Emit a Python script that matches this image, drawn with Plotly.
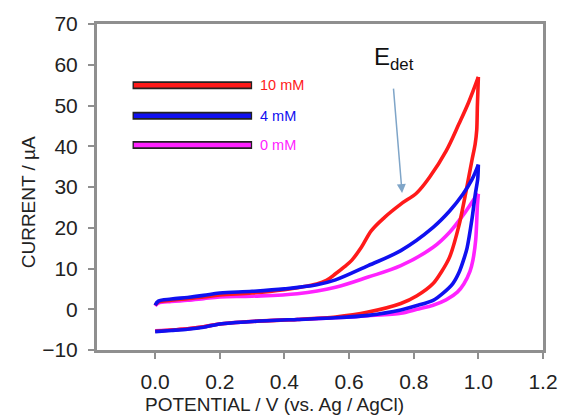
import plotly.graph_objects as go

# Cyclic voltammograms: forward (anodic) and reverse scans per concentration
v_fwd_10 = [0.0, 0.01, 0.05, 0.1, 0.15, 0.2, 0.3, 0.4, 0.45, 0.5, 0.53, 0.558, 0.585, 0.608, 0.638, 0.669, 0.709, 0.76, 0.81, 0.85, 0.9, 0.94, 0.97, 1.0]
i_fwd_10 = [1.0, 1.8, 2.2, 2.6, 3.0, 3.5, 4.0, 4.8, 5.4, 6.2, 7.1, 8.7, 10.4, 12.0, 15.2, 19.3, 22.5, 25.8, 28.6, 32.5, 38.8, 45.5, 50.8, 57.0]
v_rev_10 = [1.0, 0.997, 0.995, 0.99, 0.98, 0.962, 0.941, 0.911, 0.886, 0.86, 0.81, 0.76, 0.659, 0.558, 0.44, 0.3, 0.2, 0.15, 0.1, 0.05, 0.0]
i_rev_10 = [57.0, 50.0, 44.0, 40.5, 36.5, 29.0, 20.9, 12.8, 9.2, 6.3, 3.3, 1.4, -0.7, -1.9, -2.5, -3.0, -3.6, -4.3, -4.8, -5.1, -5.4]

v_fwd_4 = [0.0, 0.01, 0.05, 0.1, 0.15, 0.2, 0.3, 0.4, 0.5, 0.558, 0.659, 0.76, 0.86, 0.911, 0.952, 0.98, 1.0]
i_fwd_4 = [1.0, 2.0, 2.5, 2.9, 3.4, 4.0, 4.4, 5.0, 6.0, 7.2, 10.7, 14.4, 20.1, 24.1, 28.2, 31.8, 35.5]
v_rev_4 = [1.0, 0.998, 0.99, 0.98, 0.965, 0.957, 0.94, 0.921, 0.89, 0.86, 0.81, 0.76, 0.659, 0.558, 0.44, 0.3, 0.2, 0.15, 0.1, 0.05, 0.0]
i_rev_4 = [35.5, 32.0, 28.0, 22.0, 15.0, 12.8, 9.0, 6.3, 3.9, 2.2, 0.9, -0.2, -1.5, -2.1, -2.5, -3.0, -3.6, -4.4, -4.9, -5.2, -5.5]

v_fwd_0 = [0.0, 0.01, 0.05, 0.1, 0.15, 0.2, 0.3, 0.44, 0.558, 0.659, 0.76, 0.86, 0.911, 0.962, 0.99, 1.0]
i_fwd_0 = [0.8, 1.5, 1.9, 2.2, 2.6, 3.0, 3.2, 3.8, 5.4, 7.9, 10.7, 15.2, 18.9, 24.1, 27.4, 28.3]
v_rev_0 = [1.0, 0.997, 0.992, 0.983, 0.974, 0.955, 0.935, 0.9, 0.86, 0.81, 0.76, 0.659, 0.558, 0.44, 0.3, 0.2, 0.15, 0.1, 0.05, 0.0]
i_rev_0 = [28.3, 25.4, 17.2, 12.0, 9.3, 6.2, 4.2, 2.3, 1.0, 0.0, -1.0, -1.6, -2.1, -2.5, -3.0, -3.6, -4.3, -4.8, -5.1, -5.3]

series_labels = ["10 mM", "4 mM", "0 mM"]
series_colors = ["#ff1a1a", "#1010f0", "#ff22ff"]
legend_levels = [55.0, 47.5, 40.3]

x_ticks = [0.0, 0.2, 0.4, 0.6, 0.8, 1.0, 1.2]
y_ticks = [-10, 0, 10, 20, 30, 40, 50, 60, 70]

scans = {
    "10 mM": [(v_fwd_10, i_fwd_10), (v_rev_10, i_rev_10)],
    "4 mM": [(v_fwd_4, i_fwd_4), (v_rev_4, i_rev_4)],
    "0 mM": [(v_fwd_0, i_fwd_0), (v_rev_0, i_rev_0)],
}

FONT = "Liberation Sans, Arial"

fig = go.Figure()
# draw order: 0 mM, 10 mM, then 4 mM on top
for name in ["0 mM", "10 mM", "4 mM"]:
    color = series_colors[series_labels.index(name)]
    for (xs, ys), smooth in zip(scans[name], [1.0, 0.7]):
        fig.add_trace(go.Scatter(
            x=xs, y=ys, mode="lines", name=name,
            line=dict(color=color, width=3.6, shape="spline", smoothing=smooth),
            showlegend=False, hoverinfo="skip",
        ))

# hand-drawn style legend: outlined bars with coloured labels
for label, color, lvl in zip(series_labels, series_colors, legend_levels):
    fig.add_shape(type="line", xref="x", yref="y", x0=-0.07, x1=0.30, y0=lvl, y1=lvl,
                  line=dict(color="#222222", width=8))
    fig.add_shape(type="line", xref="x", yref="y", x0=-0.066, x1=0.296, y0=lvl, y1=lvl,
                  line=dict(color=color, width=4.5))
    fig.add_annotation(x=0.318, y=lvl, xref="x", yref="y", text=label, showarrow=False,
                       xanchor="left", yanchor="middle",
                       font=dict(family=FONT, size=14.5, color=color))

# E_det marker
fig.add_annotation(x=0.764, y=28.5, ax=0.737, ay=54.5, xref="x", yref="y", axref="x", ayref="y",
                   text="", showarrow=True, arrowhead=2, arrowsize=1.2, arrowwidth=1.5,
                   arrowcolor="#7fa5c8")
fig.add_annotation(x=0.74, y=61.5, xref="x", yref="y", text="E<sub>det</sub>", showarrow=False,
                   xanchor="center", yanchor="middle",
                   font=dict(family=FONT, size=24, color="#111111"))

W, H = 570, 416
L, R, T, B = 97, 18, 22, 66


def px_to_paper(px, py):
    return (px - L) / (W - L - R), 1 - (py - T) / (H - T - B)


# axis titles
ax_x, ax_y = px_to_paper(278, 405)
fig.add_annotation(x=ax_x, y=ax_y, xref="paper", yref="paper", text="POTENTIAL / V (vs. Ag / AgCl)",
                   showarrow=False, xanchor="center", yanchor="middle",
                   font=dict(family=FONT, size=19, color="#222222"))
ay_x, ay_y = px_to_paper(28, 201)
fig.add_annotation(x=ay_x, y=ay_y, xref="paper", yref="paper", text="CURRENT / µA", textangle=-90,
                   showarrow=False, xanchor="center", yanchor="middle",
                   font=dict(family=FONT, size=19, color="#222222"))

axis_common = dict(showgrid=False, zeroline=False, showline=True, linecolor="#8f8f8f", linewidth=3,
                   mirror=True, ticks="outside", ticklen=6, tickwidth=2, tickcolor="#8f8f8f",
                   tickfont=dict(family=FONT, size=21, color="#222222"))

fig.update_xaxes(range=[-0.18, 1.2], tickvals=x_ticks, ticktext=[f"{t:.1f}" for t in x_ticks],
                 ticklabelstandoff=5, **axis_common)
fig.update_yaxes(range=[-10, 70], tickvals=y_ticks, ticklabelstandoff=6, **axis_common)

fig.update_layout(width=W, height=H, margin=dict(l=L, r=R, t=T, b=B),
                  paper_bgcolor="white", plot_bgcolor="white")
fig.write_html("out.html")
